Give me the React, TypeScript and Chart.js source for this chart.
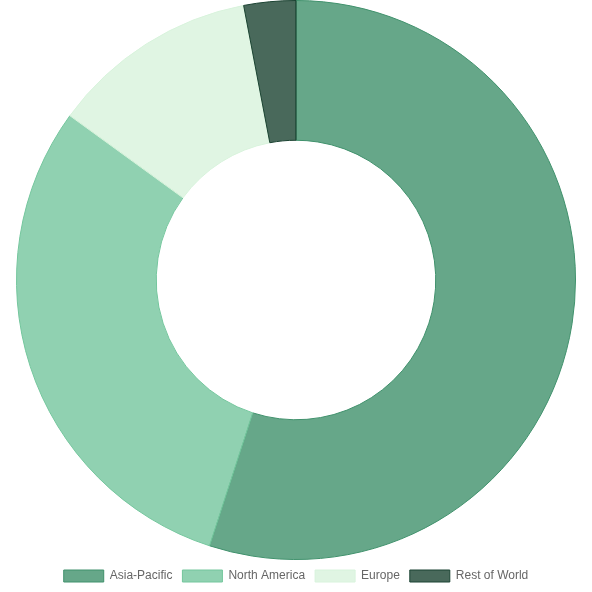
import { Chart, registerables } from "chart.js";
import React, { useEffect, useRef } from "react";

Chart.register(...registerables);

const regions = ["Asia-Pacific", "North America", "Europe", "Rest of World"];
const shares = [55, 30, 12, 3];
const solidColors = ["#40916c", "#74c69d", "#d8f3dc", "#1b4332"];
const fillColors = [
  "rgba(64, 145, 108, 0.8)",
  "rgba(116, 198, 157, 0.8)",
  "rgba(216, 243, 220, 0.8)",
  "rgba(27, 67, 50, 0.8)",
];

const App: React.FC = () => {
  const canvasRef = useRef<HTMLCanvasElement | null>(null);

  useEffect(() => {
    document.body.style.margin = "0";
    if (!canvasRef.current) return;

    const chart = new Chart(canvasRef.current, {
      type: "doughnut",
      data: {
        labels: regions,
        datasets: [
          {
            data: shares,
            backgroundColor: fillColors,
            borderColor: solidColors,
            borderWidth: 1,
          },
        ],
      },
      options: {
        animation: false,
        responsive: true,
        maintainAspectRatio: false,
        cutout: "50%",
        plugins: {
          legend: {
            display: true,
            position: "bottom",
            labels: {
              color: "#666",
              font: { family: "'Liberation Sans', Arial, sans-serif", size: 12 },
            },
          },
          tooltip: { enabled: false },
        },
      },
    });

    return () => {
      chart.destroy();
    };
  }, []);

  return (
    <div style={{ width: 592, height: 592 }}>
      <canvas ref={canvasRef} />
    </div>
  );
};

export default App;
